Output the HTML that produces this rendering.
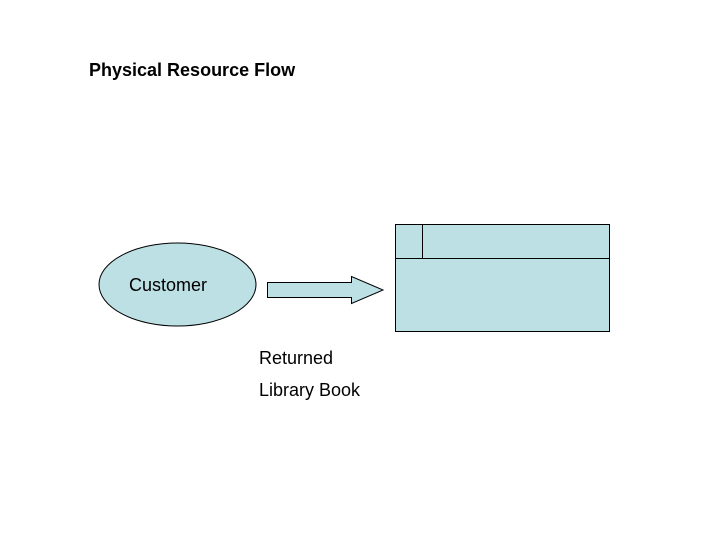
<!DOCTYPE html>
<html><head><style>
body{margin:0;width:720px;height:540px;background:#fff;overflow:hidden;position:relative;font-family:"Liberation Sans",sans-serif}
.t{position:absolute;font-size:18px;color:#000;white-space:nowrap;line-height:20px}
</style></head><body>
<svg width="720" height="540" style="position:absolute;left:0;top:0">
<ellipse cx="177.5" cy="284.5" rx="78.5" ry="41.5" fill="#bde0e4" stroke="#000" stroke-width="1"/>
<polygon points="267.5,282.5 351.5,282.5 351.5,276.5 383,290 351.5,303.5 351.5,297.5 267.5,297.5" fill="#bde0e4" stroke="#000" stroke-width="1"/>
<rect x="395.5" y="224.5" width="214" height="107" fill="#bde0e4" stroke="#000" stroke-width="1"/>
<line x1="395.5" y1="258.5" x2="609.5" y2="258.5" stroke="#000"/>
<line x1="422.5" y1="224.5" x2="422.5" y2="258.5" stroke="#000"/>
</svg>
<div class="t" style="left:89px;top:60px;font-weight:bold">Physical Resource Flow</div>
<div class="t" style="left:129px;top:275px">Customer</div>
<div class="t" style="left:259px;top:348px">Returned</div>
<div class="t" style="left:259px;top:380px">Library Book</div>
</body></html>
